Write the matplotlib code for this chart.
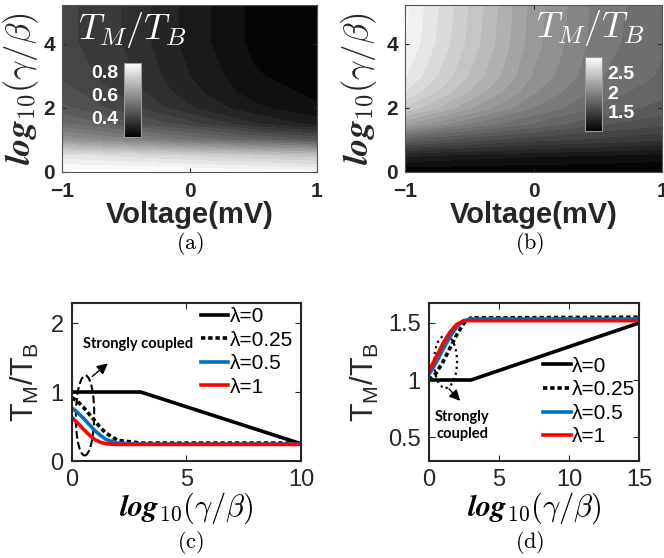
import numpy as np
import matplotlib
matplotlib.use('Agg')
import matplotlib.pyplot as plt
from matplotlib import colors
from matplotlib.patches import Ellipse

plt.rcParams['mathtext.fontset'] = 'cm'
plt.rcParams['font.family'] = ['Liberation Sans', 'DejaVu Sans']

# ---- heatmap data ----
volt = [-1, -0.5, 0, 0.5, 1]
loggb = [0, 0.5, 1, 1.5, 2, 2.5, 3, 4, 5.2]
ratio_a = [[0.88, 0.88, 0.87, 0.86, 0.85],
           [0.80, 0.78, 0.76, 0.74, 0.72],
           [0.60, 0.56, 0.52, 0.48, 0.44],
           [0.50, 0.45, 0.40, 0.34, 0.30],
           [0.45, 0.40, 0.34, 0.29, 0.26],
           [0.43, 0.38, 0.32, 0.27, 0.25],
           [0.41, 0.37, 0.31, 0.26, 0.24],
           [0.40, 0.36, 0.30, 0.25, 0.23],
           [0.40, 0.36, 0.30, 0.25, 0.23]]
ratio_b = [[1.00, 1.00, 1.00, 1.00, 1.00],
           [1.25, 1.20, 1.17, 1.15, 1.12],
           [1.70, 1.58, 1.50, 1.45, 1.40],
           [2.20, 1.95, 1.78, 1.65, 1.58],
           [2.50, 2.20, 1.95, 1.78, 1.68],
           [2.66, 2.34, 2.04, 1.84, 1.74],
           [2.75, 2.42, 2.10, 1.88, 1.78],
           [2.82, 2.48, 2.14, 1.91, 1.80],
           [2.84, 2.50, 2.15, 1.92, 1.81]]

# ---- line data ----
xc0 = [0, 3, 10]
yc0 = [1.0, 1.0, 0.25]
xc = [0, 0.25, 0.5, 0.75, 1, 1.25, 1.5, 2, 3, 10]
yc_025 = [0.92, 0.86, 0.78, 0.68, 0.58, 0.48, 0.40, 0.30, 0.26, 0.26]
yc_05 = [0.77, 0.70, 0.62, 0.53, 0.44, 0.37, 0.31, 0.26, 0.245, 0.245]
yc_1 = [0.63, 0.55, 0.46, 0.38, 0.31, 0.27, 0.25, 0.24, 0.24, 0.24]

xd0 = [0, 3, 15]
yd0 = [1.0, 1.0, 1.5]
xd = [0, 0.5, 1, 1.5, 2, 2.5, 3, 15]
yd_025 = [1.00, 1.06, 1.16, 1.28, 1.40, 1.50, 1.545, 1.55]
yd_05 = [1.05, 1.15, 1.27, 1.38, 1.47, 1.52, 1.535, 1.535]
yd_1 = [1.08, 1.20, 1.32, 1.42, 1.49, 1.52, 1.52, 1.52]

ylab_log = r'$\boldsymbol{log}_{10}(\gamma/\beta)$'
title_tm = r'$T_M/T_B$'

fig = plt.figure(figsize=(6.64, 5.58), dpi=100)


def heat(rect, crect, z, vmin, vmax, ticks, side, txy):
    ax = fig.add_axes(rect)
    lev = np.linspace(vmin, vmax, 25)
    ax.contourf(volt, loggb, z, levels=lev, cmap='gray', extend='both')
    ax.set_xlim(-1, 1)
    ax.set_ylim(0, 5.2)
    ax.set_xticks([-1, 0, 1])
    ax.set_yticks([0, 2, 4])
    ax.tick_params(direction='in', length=3, labelsize=15, top=True, right=True,
                   colors='#262626', pad=5)
    ax.tick_params(axis='x', pad=7)
    for t in ax.get_xticklabels() + ax.get_yticklabels():
        t.set_fontweight('bold')
    for s in ax.spines.values():
        s.set_color('#555555')
    ax.set_xlabel('Voltage(mV)', fontsize=21, fontweight='bold', color='#262626')
    ax.xaxis.set_label_coords(0.5, -0.26)
    ax.xaxis.label.set_va('center')
    ax.set_ylabel(ylab_log, fontsize=25, color='#262626')
    ax.text(txy[0], txy[1], title_tm, transform=ax.transAxes, color='white',
            fontsize=26, ha='center', va='center')
    cax = fig.add_axes(crect)
    sm = plt.cm.ScalarMappable(norm=colors.Normalize(vmin, vmax), cmap='gray')
    cb = fig.colorbar(sm, cax=cax)
    cb.set_ticks(ticks[0], labels=ticks[1])
    cb.outline.set_edgecolor('#999999')
    cax.yaxis.set_ticks_position(side)
    cax.tick_params(length=0, labelcolor='white', labelsize=14, pad=4)
    for t in cax.get_yticklabels():
        t.set_fontweight('bold')
    return ax


ax_a = heat([0.0934, 0.6918, 0.384, 0.2993], [0.1867, 0.7545, 0.0256, 0.1326],
            ratio_a, 0.23, 0.87, ([0.4, 0.6, 0.8], ['0.4', '0.6', '0.8']), 'left',
            (0.275, 0.85))
ax_a.yaxis.set_label_coords(-0.16, 0.5)
ax_a.yaxis.label.set_va('center')
ax_b = heat([0.61, 0.6918, 0.387, 0.2993], [0.881, 0.7652, 0.0256, 0.1326],
            ratio_b, 1.0, 2.9, ([1.5, 2, 2.5], ['1.5', '2', '2.5']), 'right',
            (0.72, 0.862))
ax_b.yaxis.set_label_coords(-0.18, 0.5)
ax_b.yaxis.label.set_va('center')

blue = '#0072BD'
dot = (0, (1.2, 0.8))


def lines(rect, x0, y0, x, ys):
    ax = fig.add_axes(rect)
    ax.plot(x0, y0, color='k', lw=2.6, label='λ=0')
    ax.plot(x, ys[0], color='k', lw=2.6, ls=dot, label='λ=0.25')
    ax.plot(x, ys[1], color=blue, lw=2.6, label='λ=0.5')
    ax.plot(x, ys[2], color='red', lw=2.6, label='λ=1')
    ax.tick_params(direction='in', length=4, labelsize=17, top=True, right=True,
                   pad=6, colors='#262626')
    for s in ax.spines.values():
        s.set_linewidth(1.5)
        s.set_color('#262626')
    ax.set_xlabel(ylab_log, fontsize=22)
    ax.set_ylabel(r'$\mathregular{T_M/T_B}$', fontsize=22, color='#262626')
    ax.xaxis.set_label_coords(0.5, -0.3)
    ax.xaxis.label.set_va('center')
    ax.yaxis.label.set_va('center')
    return ax


ax_c = lines([0.1084, 0.1738, 0.3449, 0.2832], xc0, yc0, xc, [yc_025, yc_05, yc_1])
ax_c.set_xlim(0, 10)
ax_c.set_ylim(0, 2.29)
ax_c.set_xticks([0, 5, 10])
ax_c.set_yticks([0, 1, 2])
ax_c.yaxis.set_label_coords(-0.205, 0.5)
ax_c.legend(loc='upper left', bbox_to_anchor=(0.565, 0.975), frameon=False, fontsize=15,
            handlelength=1.3, handletextpad=0.05, borderpad=0, borderaxespad=0,
            labelspacing=0.22)
ax_c.add_patch(Ellipse((0.57, 0.66), 0.8, 1.16, angle=-3, fill=False, ls='--', lw=1.5,
                       color='k'))
ax_c.annotate('', xy=(1.66, 1.44), xytext=(0.79, 1.2),
              arrowprops=dict(arrowstyle='-|>', color='k', lw=1, mutation_scale=16))
ax_c.text(0.5, 1.69, 'Strongly coupled', fontsize=10.5, family='Lato', weight='bold',
          va='center', ha='left')

ax_d = lines([0.6461, 0.1738, 0.3163, 0.2832], xd0, yd0, xd, [yd_025, yd_05, yd_1])
ax_d.set_xlim(0, 15)
ax_d.set_ylim(0.29, 1.675)
ax_d.set_xticks([0, 5, 10, 15])
ax_d.set_yticks([0.5, 1, 1.5], labels=['0.5', '1', '1.5'])
ax_d.yaxis.set_label_coords(-0.305, 0.5)
ax_d.legend(loc='upper left', bbox_to_anchor=(0.545, 0.66), frameon=False, fontsize=15,
            handlelength=1.3, handletextpad=0.05, borderpad=0, borderaxespad=0,
            labelspacing=0.22)
ax_d.add_patch(Ellipse((1.18, 1.16), 1.64, 0.46, angle=0, fill=False, ls=':', lw=1.6,
                       color='k'))
ax_d.annotate('', xy=(2.36, 0.80), xytext=(1.29, 0.94),
              arrowprops=dict(arrowstyle='-|>', color='k', lw=1, mutation_scale=16))
ax_d.text(2.36, 0.6, 'Strongly\ncoupled', fontsize=10.5, family='Lato', weight='bold',
          va='center', ha='center', linespacing=1.3)

for lab, x, y in [('(a)', 190, 243), ('(b)', 530, 243), ('(c)', 190, 542), ('(d)', 530, 542)]:
    fig.text(x / 664, 1 - y / 558, r'$\mathrm{' + lab + '}$', fontsize=16, ha='center',
             va='center')

fig.savefig('out.png', dpi=100)
